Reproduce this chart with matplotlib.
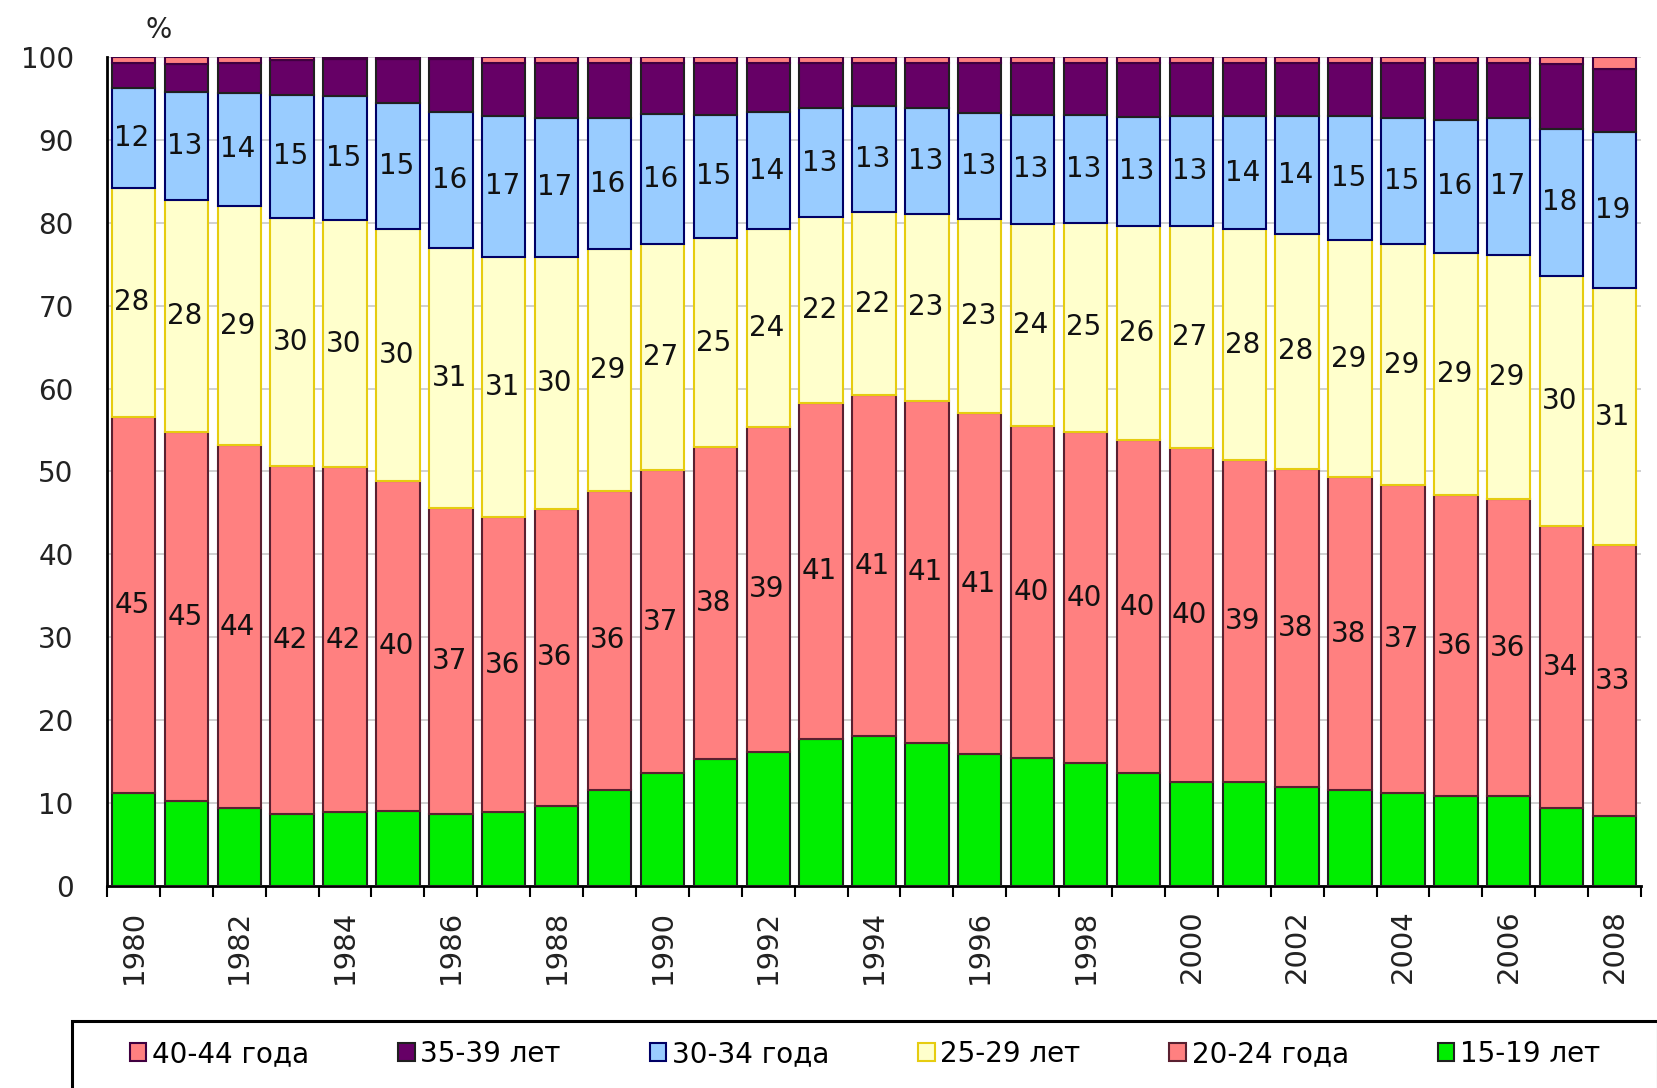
import numpy as np
import matplotlib
matplotlib.use("Agg")
import matplotlib.pyplot as plt
from matplotlib.patches import Patch, Rectangle

years = list(range(1980, 2009))

# shares of births by mother's age group, %
age_15_19 = [11.2, 10.2, 9.4, 8.7, 8.9, 9.0, 8.7, 8.9, 9.7, 11.6, 13.6, 15.3, 16.2, 17.7, 18.1,
             17.3, 15.9, 15.5, 14.8, 13.6, 12.6, 12.6, 12.0, 11.6, 11.2, 10.8, 10.8, 9.4, 8.4]
age_20_24 = [45.4, 44.6, 43.8, 42.0, 41.6, 39.8, 36.9, 35.6, 35.8, 36.1, 36.6, 37.6, 39.2, 40.6, 41.1,
             41.2, 41.1, 40.0, 40.0, 40.2, 40.2, 38.8, 38.3, 37.7, 37.2, 36.4, 35.9, 34.0, 32.7]
age_25_29 = [27.6, 28.0, 28.8, 29.9, 29.8, 30.4, 31.4, 31.4, 30.4, 29.1, 27.3, 25.3, 23.8, 22.4, 22.1,
             22.6, 23.4, 24.4, 25.2, 25.8, 26.8, 27.8, 28.4, 28.6, 29.0, 29.2, 29.4, 30.2, 31.0]
age_30_34 = [12.1, 13.0, 13.7, 14.8, 15.0, 15.2, 16.4, 17.0, 16.8, 15.8, 15.6, 14.8, 14.2, 13.1, 12.8,
             12.7, 12.9, 13.1, 13.0, 13.2, 13.3, 13.7, 14.2, 15.0, 15.3, 16.0, 16.6, 17.7, 18.8]
age_35_39 = [3.0, 3.4, 3.6, 4.2, 4.5, 5.4, 6.4, 6.4, 6.6, 6.7, 6.2, 6.3, 5.9, 5.5, 5.2,
             5.5, 6.0, 6.3, 6.3, 6.5, 6.4, 6.4, 6.4, 6.4, 6.6, 6.9, 6.6, 7.9, 7.6]
age_40_44 = [0.7, 0.8, 0.7, 0.4, 0.2, 0.2, 0.2, 0.7, 0.7, 0.7, 0.7, 0.7, 0.7, 0.7, 0.7,
             0.7, 0.7, 0.7, 0.7, 0.7, 0.7, 0.7, 0.7, 0.7, 0.7, 0.7, 0.7, 0.8, 1.5]

series = [age_15_19, age_20_24, age_25_29, age_30_34, age_35_39, age_40_44]
names = ["15-19 лет", "20-24 года", "25-29 лет", "30-34 года", "35-39 лет", "40-44 года"]
colors = ["#00ee00", "#ff8080", "#ffffcc", "#99ccff", "#660066", "#ff8080"]
edges = ["#202020", "#5a2030", "#e6cc10", "#000066", "#202020", "#400040"]
labeled = [False, True, True, True, False, False]

plt.rcParams['font.family'] = ['DejaVu Sans']

fig = plt.figure(figsize=(16.58, 10.88), dpi=100)
ax = fig.add_axes([107/1658, 1-886/1088, (1641-107)/1658, (886-57)/1088])

x = np.arange(len(years))
bottom = np.zeros(len(years))
for vals, nm, c, ec, lab in zip(series, names, colors, edges, labeled):
    vals = np.array(vals)
    ax.bar(x, vals, width=0.82, bottom=bottom, color=c, edgecolor=ec, linewidth=1.5, label=nm, zorder=3)
    if lab:
        for xi, b, v in zip(x, bottom, vals):
            ax.text(xi - 0.03, b + v/2, "%d" % round(v), ha="center", va="center",
                    fontsize=20, color="#111111", zorder=4)
    bottom += vals

ax.set_xlim(-0.5, len(years) - 0.5)
ax.set_ylim(0, 100)
ax.set_yticks(range(0, 101, 10))
ax.yaxis.grid(True, color="#c8c8c8", linewidth=1.2)
ax.set_axisbelow(True)
ax.tick_params(axis="y", length=0, pad=24, labelsize=20, labelcolor="#222222")

ax.set_xticks(x[::2])
ax.set_xticklabels([str(y) for y in years[::2]], rotation=90, fontsize=21, color="#222222")
ax.set_xticks(np.arange(-0.5, len(years), 1.0), minor=True)
ax.tick_params(axis="x", which="major", length=0, pad=17)
ax.tick_params(axis="x", which="minor", length=8, width=1.5, direction="out")

for s in ["top", "right"]:
    ax.spines[s].set_visible(False)
ax.spines["left"].set_linewidth(2)
ax.spines["bottom"].set_linewidth(2)

fig.text(159/1658, 1-30/1088, "%", fontsize=20, ha="center", va="center", color="#222222")

# legend box
fig.patches.append(Rectangle((72/1658, -0.01), (1658-72)/1658, 78/1088, transform=fig.transFigure,
                             facecolor="white", edgecolor="black", linewidth=2.2, zorder=1))
handles = [Patch(facecolor=colors[i], edgecolor=edges[i], linewidth=1.5) for i in range(5, -1, -1)]
leg = fig.legend(handles, [names[i] for i in range(5, -1, -1)], ncol=6,
                 bbox_to_anchor=(72/1658, 0.0, (1658-72)/1658, 68/1088), loc="center",
                 fontsize=20, handlelength=0.6, handleheight=0.6, handletextpad=0.2,
                 columnspacing=3.2, borderaxespad=0.0, frameon=False)
leg.set_zorder(2)

fig.savefig("out.png", dpi=100)
